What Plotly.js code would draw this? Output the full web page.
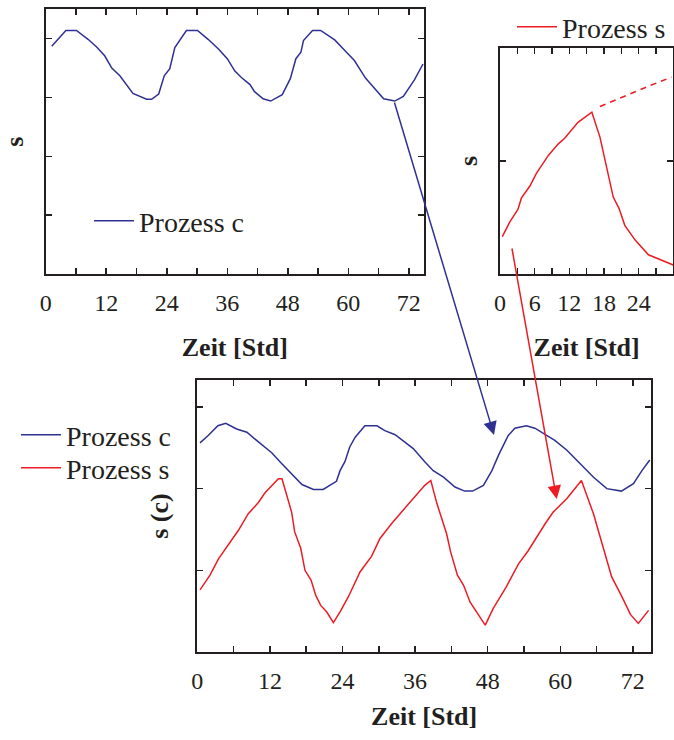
<!DOCTYPE html>
<html>
<head>
<meta charset="utf-8">
<script src="https://cdn.plot.ly/plotly-3.0.1.min.js"></script>
<style>
html,body{margin:0;padding:0;background:#fff}
#chart{width:674px;height:740px}
</style>
</head>
<body>
<div id="chart"></div>
<script>
// ---- data ----
const topC_x = [1.2, 4.0, 6.1, 8.4, 10.1, 11.7, 13.1, 14.7, 17.3, 20.0, 21.0, 22.4, 23.5, 24.6, 25.6, 27.9, 30.1, 32.2, 34.3, 36.0, 37.5, 38.8, 40.5, 41.4, 43.1, 44.6, 46.9, 48.5, 49.6, 50.6, 51.1, 52.9, 54.5, 57.3, 59.3, 61.2, 63.4, 65.5, 67.0, 69.2, 70.9, 73.1, 74.8];
const topC_y = [3.87, 4.14, 4.14, 3.99, 3.86, 3.71, 3.50, 3.37, 3.07, 2.97, 2.97, 3.06, 3.37, 3.49, 3.85, 4.14, 4.14, 3.99, 3.82, 3.66, 3.45, 3.34, 3.22, 3.10, 2.98, 2.94, 3.05, 3.32, 3.66, 3.77, 3.97, 4.14, 4.14, 3.98, 3.80, 3.63, 3.33, 3.12, 2.98, 2.94, 3.02, 3.30, 3.57];

const topS_x = [0.4, 1.7, 3.1, 3.7, 5.2, 6.3, 8.4, 10.1, 11.2, 13.5, 15.9, 17.3, 18.3, 19.0, 19.6, 20.6, 21.6, 23.4, 25.7, 30.0];
const topS_y = [0.33, 0.46, 0.57, 0.67, 0.78, 0.89, 1.05, 1.15, 1.20, 1.34, 1.43, 1.21, 0.98, 0.80, 0.68, 0.58, 0.43, 0.30, 0.17, 0.08];
const topSdash_x = [17.3, 18.7, 22.8, 26.2, 29.7];
const topSdash_y = [1.48, 1.51, 1.60, 1.67, 1.74];

const botC_x = [0.45, 1.8, 3.4, 4.7, 6.5, 8.2, 9.8, 12.3, 13.9, 15.6, 17.3, 19.2, 20.8, 23.0, 23.6, 24.4, 25.2, 26.1, 27.7, 29.7, 31.0, 32.7, 34.3, 35.7, 37.6, 39.0, 40.7, 42.6, 44.2, 45.5, 47.3, 48.7, 49.8, 50.6, 51.4, 52.5, 54.4, 55.8, 57.5, 59.1, 61.1, 63.3, 65.5, 67.7, 70.1, 72.1, 73.5, 74.8];
const botC_y = [2.56, 2.65, 2.77, 2.80, 2.73, 2.69, 2.59, 2.44, 2.31, 2.18, 2.05, 1.99, 1.99, 2.09, 2.22, 2.33, 2.51, 2.63, 2.77, 2.77, 2.71, 2.66, 2.57, 2.49, 2.33, 2.22, 2.14, 2.02, 1.97, 1.97, 2.04, 2.22, 2.41, 2.53, 2.65, 2.74, 2.77, 2.74, 2.66, 2.59, 2.47, 2.31, 2.14, 2.00, 1.97, 2.06, 2.22, 2.35];

const botS_x = [0.45, 2.1, 3.5, 4.9, 6.8, 8.4, 10.1, 11.2, 13.4, 14.0, 15.6, 16.1, 17.1, 17.8, 18.8, 19.6, 20.4, 21.4, 22.5, 23.6, 25.0, 26.9, 28.8, 30.2, 32.1, 34.3, 36.0, 37.6, 38.6, 39.6, 41.2, 41.9, 43.0, 44.0, 45.1, 46.3, 47.6, 48.9, 51.1, 53.1, 54.7, 57.5, 58.8, 61.1, 63.5, 65.5, 66.8, 68.5, 70.1, 71.6, 72.9, 74.6];
const botS_y = [0.76, 0.94, 1.14, 1.29, 1.49, 1.69, 1.83, 1.95, 2.12, 2.12, 1.71, 1.47, 1.27, 1.00, 0.88, 0.69, 0.57, 0.49, 0.36, 0.49, 0.68, 0.98, 1.17, 1.39, 1.57, 1.76, 1.91, 2.04, 2.10, 1.82, 1.45, 1.22, 0.94, 0.82, 0.61, 0.47, 0.33, 0.53, 0.80, 1.08, 1.24, 1.57, 1.71, 1.88, 2.10, 1.69, 1.35, 0.92, 0.69, 0.46, 0.35, 0.51];

// tick labels
const tick72_vals = [0, 6, 12, 18, 24, 30, 36, 42, 48, 54, 60, 66, 72];
const tick72_text = ['0', '', '12', '', '24', '', '36', '', '48', '', '60', '', '72'];
const tick24_vals = [0, 3, 6, 9, 12, 15, 18, 21, 24, 27];
const tick24_text = ['0', '', '6', '', '12', '', '18', '', '24', ''];

const seriesNames = ['Prozess c', 'Prozess s'];
const xTitle = 'Zeit [Std]';

// ---- style ----
const BLUE = '#2e3192', RED = '#ed1c24', INK = '#231f20';
const FONT = 'Liberation Serif';
const W = 674, H = 740;
const px = v => v / W, py = v => 1 - v / H;

function xAx(dom, range, vals, text, standoff, anchor) {
  return {
    domain: dom, range: range, anchor: anchor,
    tickvals: vals, ticktext: text,
    ticks: 'inside', ticklen: 6, tickwidth: 1.5, tickcolor: INK,
    showline: true, linewidth: 2, linecolor: INK, mirror: 'allticks',
    showgrid: false, zeroline: false, fixedrange: true,
    tickfont: {family: FONT, size: 24, color: INK}, ticklabelstandoff: 6,
    title: {text: xTitle, font: {family: FONT, size: 26, color: INK, weight: 'bold'}, standoff: standoff}
  };
}
function yAx(dom, range, vals, title, standoff, anchor) {
  return {
    domain: dom, range: range, anchor: anchor,
    tickvals: vals, showticklabels: false,
    ticks: 'inside', ticklen: 6, tickwidth: 1.5, tickcolor: INK,
    showline: true, linewidth: 2, linecolor: INK, mirror: 'allticks',
    showgrid: false, zeroline: false, fixedrange: true,
    title: {text: title, font: {family: FONT, size: 26, color: INK, weight: 'bold'}, standoff: standoff}
  };
}

const traces = [
  {x: topC_x, y: topC_y, xaxis: 'x', yaxis: 'y', mode: 'lines', name: seriesNames[0],
   line: {color: BLUE, width: 1.5}, legend: 'legend'},
  {x: topS_x, y: topS_y, xaxis: 'x2', yaxis: 'y2', mode: 'lines', name: seriesNames[1],
   line: {color: RED, width: 1.5}, legend: 'legend2'},
  {x: topSdash_x, y: topSdash_y, xaxis: 'x2', yaxis: 'y2', mode: 'lines', showlegend: false,
   line: {color: RED, width: 1.5, dash: '6px,5px'}},
  {x: botC_x, y: botC_y, xaxis: 'x3', yaxis: 'y3', mode: 'lines', name: seriesNames[0],
   line: {color: BLUE, width: 1.5}, legend: 'legend3'},
  {x: botS_x, y: botS_y, xaxis: 'x3', yaxis: 'y3', mode: 'lines', name: seriesNames[1],
   line: {color: RED, width: 1.5}, legend: 'legend4'}
];

const legFont = {family: FONT, size: 28, color: INK};
const legBase = {bgcolor: 'rgba(0,0,0,0)', borderwidth: 0, font: legFont, itemwidth: 40,
                 xanchor: 'left', yanchor: 'middle', tracegroupgap: 0, itemclick: false, itemdoubleclick: false};

const layout = {
  width: W, height: H,
  margin: {l: 0, r: 0, t: 0, b: 0},
  paper_bgcolor: '#fff', plot_bgcolor: 'rgba(0,0,0,0)',
  font: {family: FONT, color: INK},
  showlegend: true,
  xaxis: xAx([px(45.7), px(424)], [0, 75], tick72_vals, tick72_text, 23, 'y'),
  yaxis: yAx([py(274), py(9.3)], [0, 4.5], [1, 2, 3, 4], 's', 13, 'x'),
  xaxis2: xAx([px(500), px(673.3)], [0, 30], tick24_vals, tick24_text, 23, 'y2'),
  yaxis2: yAx([py(274), py(47.7)], [0, 2], [1], 's', 13, 'x2'),
  xaxis3: xAx([px(197.3), px(651)], [0, 75], tick72_vals, tick72_text, 14, 'y3'),
  yaxis3: yAx([py(652), py(380)], [0, 3.33], [1, 2, 3], 's (c)', 19, 'x3'),
  legend: Object.assign({}, legBase, {x: px(89), y: py(221)}),
  legend2: Object.assign({}, legBase, {x: px(512), y: py(27)}),
  legend3: Object.assign({}, legBase, {x: px(16), y: py(435)}),
  legend4: Object.assign({}, legBase, {x: px(16), y: py(468)}),
  annotations: [
    {xref: 'paper', yref: 'paper', x: px(494), y: py(435), axref: 'pixel', ayref: 'pixel',
     ax: -100, ay: -334, text: '', showarrow: true, arrowhead: 2, arrowsize: 1.8,
     arrowwidth: 1.5, arrowcolor: BLUE, standoff: 0},
    {xref: 'paper', yref: 'paper', x: px(556.7), y: py(499), axref: 'pixel', ayref: 'pixel',
     ax: -45, ay: -252, text: '', showarrow: true, arrowhead: 2, arrowsize: 1.8,
     arrowwidth: 1.5, arrowcolor: RED, standoff: 0}
  ]
};

Plotly.newPlot('chart', traces, layout, {displayModeBar: false, staticPlot: true});
</script>
</body>
</html>
